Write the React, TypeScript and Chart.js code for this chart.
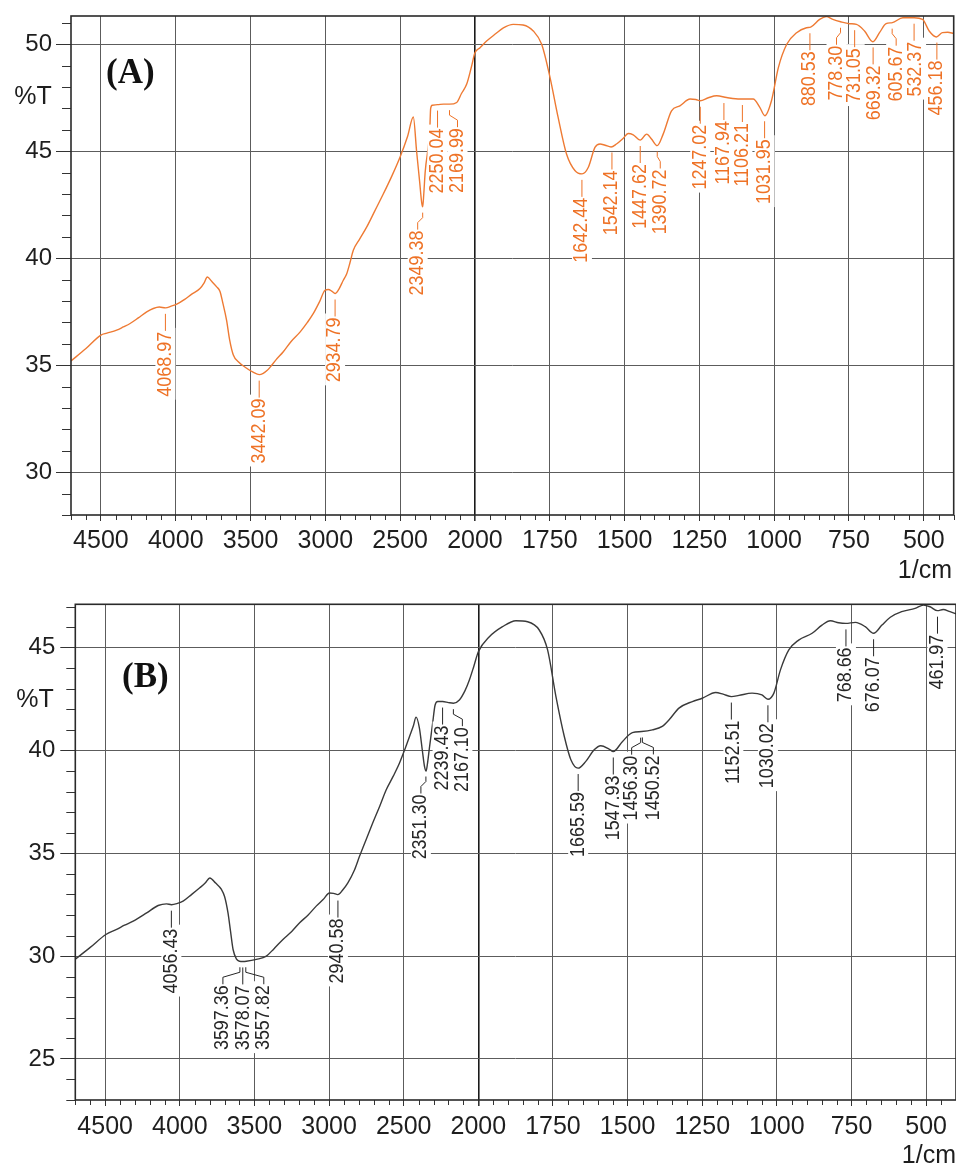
import React, { useEffect, useRef } from "react";
import { Chart, registerables } from "chart.js";

Chart.register(...registerables);

// ---------------- data ----------------
const xTickLabels = [4500, 4000, 3500, 3000, 2500, 2000, 1750, 1500, 1250, 1000, 750, 500];
const xRange = [4700, 400];
const yTicksA = [30, 35, 40, 45, 50];
const yTicksB = [25, 30, 35, 40, 45];
const yRangeA = [28, 51.32];
const yRangeB = [23, 47.11];

const wavenumbersA = [
  4700, 4600, 4500, 4460, 4395, 4350, 4305, 4250, 4194, 4150, 4110, 4068, 4030, 3993, 3940, 3893,
  3838, 3810, 3789, 3760, 3726, 3704, 3685, 3660, 3640, 3615, 3580, 3526, 3480, 3442, 3415, 3390,
  3370, 3330, 3281, 3230, 3168, 3120, 3080, 3040, 3002, 2980, 2955, 2935, 2910, 2880, 2857, 2835,
  2813, 2770, 2724, 2670, 2612, 2555, 2501, 2450, 2412, 2390, 2370, 2356, 2349, 2342, 2333, 2302,
  2296, 2285, 2250, 2210, 2170, 2122, 2090, 2055, 2025, 2000, 1983, 1961, 1930, 1905, 1872, 1839,
  1805, 1777, 1749, 1722, 1694, 1666, 1642, 1621, 1599, 1582, 1565, 1545, 1527, 1505, 1488, 1471,
  1448, 1426, 1410, 1391, 1371, 1343, 1315, 1281, 1262, 1247, 1220, 1192, 1159, 1114, 1070, 1048,
  1031, 1009, 986, 958, 925, 892, 878, 848, 826, 804, 778, 748, 725, 698, 670, 648,
  626, 605, 570, 532, 504, 482, 458, 438, 420, 400,
];
const transmittanceA = [
  35.2, 35.78, 36.41, 36.5, 36.64, 36.79, 36.95, 37.21, 37.49, 37.65, 37.72, 37.68, 37.76, 37.85, 38.08, 38.32,
  38.58, 38.85, 39.12, 38.92, 38.66, 38.45, 37.9, 37.1, 36.2, 35.48, 35.15, 34.86, 34.66, 34.56, 34.62, 34.75,
  34.9, 35.25, 35.63, 36.1, 36.56, 37.0, 37.42, 37.95, 38.5, 38.54, 38.45, 38.35, 38.55, 38.97, 39.28, 39.8,
  40.37, 40.9, 41.45, 42.2, 43.01, 43.85, 44.72, 45.7, 46.6, 45.0, 43.6, 42.6, 42.4, 43.0, 44.0, 46.0,
  47.0, 47.15, 47.18, 47.2, 47.2, 47.28, 47.7, 48.14, 48.9, 49.6, 49.84, 50.15, 50.5, 50.77, 50.93, 50.9,
  50.62, 50.0, 48.44, 46.58, 44.87, 44.1, 43.94, 44.25, 45.18, 45.34, 45.28, 45.2, 45.34, 45.6, 45.83, 45.77,
  45.52, 45.8, 45.57, 45.26, 45.8, 46.89, 47.12, 47.44, 47.42, 47.36, 47.5, 47.59, 47.51, 47.44, 47.44, 47.05,
  46.66, 47.36, 48.91, 50.0, 50.54, 50.77, 50.8, 51.16, 51.29, 51.16, 51.05, 50.96, 50.93, 50.62, 50.12, 50.54,
  50.96, 51.01, 51.24, 51.24, 51.16, 50.62, 50.34, 50.54, 50.56, 50.5,
];
const peaksA = [
  4068.97, 3442.09, 2934.79, 2349.38, 2250.04, 2169.99, 1642.44, 1542.14, 1447.62, 1390.72, 1247.02,
  1167.94, 1106.21, 1031.95, 880.53, 778.3, 731.05, 669.32, 605.67, 532.37, 456.18,
];

const wavenumbersB = [
  4700, 4602, 4495, 4423, 4370, 4312, 4222, 4145, 4089, 4056, 4020, 3978, 3920, 3866, 3830, 3799,
  3760, 3721, 3700, 3677, 3660, 3643, 3620, 3600, 3578, 3554, 3487, 3420, 3370, 3309, 3250, 3197,
  3140, 3086, 3040, 2997, 2970, 2941, 2910, 2874, 2829, 2796, 2750, 2707, 2660, 2617, 2570, 2528,
  2490, 2461, 2435, 2417, 2395, 2375, 2360, 2350, 2340, 2328, 2306, 2290, 2272, 2239, 2200, 2167,
  2127, 2090, 2060, 2030, 2000, 1963, 1919, 1874, 1835, 1796, 1768, 1740, 1712, 1690, 1666, 1640,
  1612, 1590, 1562, 1548, 1517, 1484, 1453, 1417, 1384, 1361, 1328, 1283, 1250, 1205, 1180, 1152,
  1127, 1083, 1050, 1030, 1010, 988, 960, 927, 882, 849, 821, 793, 769, 737, 704, 676,
  648, 620, 582, 537, 509, 487, 462, 443, 420, 400,
];
const transmittanceB = [
  29.85, 30.41, 31.05, 31.3, 31.5, 31.7, 32.1, 32.46, 32.54, 32.5, 32.55, 32.67, 33.0, 33.32, 33.55, 33.8,
  33.55, 33.24, 32.9, 32.1, 31.2, 30.32, 29.85, 29.75, 29.74, 29.75, 29.84, 30.0, 30.35, 30.81, 31.2, 31.62,
  32.0, 32.43, 32.75, 33.07, 33.05, 32.99, 33.2, 33.56, 34.2, 34.85, 35.7, 36.48, 37.3, 38.09, 38.75, 39.39,
  40.1, 40.68, 41.2, 41.62, 41.1, 40.0, 39.2, 39.0, 39.4, 40.1, 41.33, 42.2, 42.38, 42.38, 42.33, 42.3,
  42.46, 42.9, 43.43, 44.1, 44.8, 45.53, 46.02, 46.31, 46.26, 45.86, 44.89, 42.62, 40.68, 39.55, 39.14, 39.47,
  40.03, 40.23, 40.07, 39.95, 40.44, 40.87, 40.92, 41.0, 41.17, 41.49, 42.06, 42.38, 42.54, 42.82, 42.74, 42.62,
  42.68, 42.79, 42.7, 42.49, 42.79, 43.92, 44.89, 45.37, 45.7, 46.1, 46.31, 46.21, 46.18, 46.23, 46.02, 45.7,
  46.1, 46.48, 46.75, 46.91, 47.07, 46.99, 46.8, 46.86, 46.75, 46.65,
];
const peaksB = [
  4056.43, 3597.36, 3578.07, 3557.82, 2940.58, 2351.3, 2239.43, 2167.1, 1665.59, 1547.93, 1456.3,
  1450.52, 1152.51, 1030.02, 768.66, 676.07, 461.97,
];

// ---------------- layout / style (not data) ----------------
const labelShiftA = [0, 0, 0, -5, 0, 8, 0, 0, 0, 3, 0, 0, 0, 0, 0, -4, 0, 2, 4, 2, 0];
const labelShiftB = [0, -17, 1, 18, 0, -5, 0, 9, 0, 0, -9, 11, 2, 0, 0, 0, 0];

const SANS = '"Liberation Sans", Arial, Helvetica, sans-serif';
const SERIF = '"Liberation Serif", "Times New Roman", serif';
const BREAK = 2000;
const toP = (w: number) => (w <= BREAK ? w : BREAK + (w - BREAK) / 2);
const fromP = (p: number) => (p <= BREAK ? p : BREAK + (p - BREAK) * 2);

function curveAt(ws: number[], ts: number[], w: number) {
  for (let i = 0; i < ws.length - 1; i++) {
    const a = ws[i];
    const b = ws[i + 1];
    if ((w <= a && w >= b) || (w >= a && w <= b)) {
      const f = (w - a) / (b - a || 1);
      return ts[i] + f * (ts[i + 1] - ts[i]);
    }
  }
  return ts[ts.length - 1];
}

type PanelCfg = {
  top: number;
  height: number;
  area: { left: number; top: number; right: number; bottom: number };
  w: number[];
  t: number[];
  peaks: number[];
  shifts: number[];
  yRange: number[];
  yTicks: number[];
  lineColor: string;
  labelColor: string;
  tag: string;
  tagPos: [number, number];
  unitPos: [number, number];
  cmPos: [number, number];
  xLabelPad: number;
  yLabelPad: number;
};

const panelA: PanelCfg = {
  top: 0,
  height: 582,
  area: { left: 71, top: 15, right: 953.7, bottom: 515 },
  w: wavenumbersA,
  t: transmittanceA,
  peaks: peaksA,
  shifts: labelShiftA,
  yRange: yRangeA,
  yTicks: yTicksA,
  lineColor: "#ee7a33",
  labelColor: "#ee7226",
  tag: "(A)",
  tagPos: [106, 83],
  unitPos: [33, 97],
  cmPos: [952, 578],
  xLabelPad: 5,
  yLabelPad: 4,
};

const panelB: PanelCfg = {
  top: 582,
  height: 582,
  area: { left: 75.3, top: 22.3, right: 956, bottom: 518 },
  w: wavenumbersB,
  t: transmittanceB,
  peaks: peaksB,
  shifts: labelShiftB,
  yRange: yRangeB,
  yTicks: yTicksB,
  lineColor: "#3a3a3a",
  labelColor: "#262626",
  tag: "(B)",
  tagPos: [122, 105],
  unitPos: [35, 118],
  cmPos: [956, 581],
  xLabelPad: 6,
  yLabelPad: 5,
};

function SpectrumPanel({ cfg }: { cfg: PanelCfg }) {
  const ref = useRef<HTMLCanvasElement>(null);

  useEffect(() => {
    const canvas = ref.current;
    if (!canvas) return;
    const W = 956;
    const majorP = xTickLabels.map(toP);
    const pMin = toP(xRange[1]);
    const pMax = toP(xRange[0]);
    const points = cfg.w
      .map((w, i) => ({ x: toP(w), y: cfg.t[i] }))
      .sort((a, b) => a.x - b.x);

    const overlay = {
      id: "overlay",
      afterDraw(chart: any) {
        const ctx = chart.ctx as CanvasRenderingContext2D;
        const xs = chart.scales.x;
        const ys = chart.scales.y;
        const { left, right, top, bottom } = chart.chartArea;
        ctx.save();

        // minor ticks
        ctx.strokeStyle = "#333";
        ctx.lineWidth = 1;
        ctx.beginPath();
        for (let p = pMin; p <= pMax; p += 50) {
          if (majorP.includes(p)) continue;
          const x = Math.round(xs.getPixelForValue(p)) + 0.5;
          ctx.moveTo(x, bottom);
          ctx.lineTo(x, bottom + 5);
        }
        for (let v = Math.ceil(ys.min); v <= Math.floor(ys.max); v++) {
          if (cfg.yTicks.includes(v)) continue;
          const y = Math.round(ys.getPixelForValue(v)) + 0.5;
          ctx.moveTo(left - 9, y);
          ctx.lineTo(left, y);
        }
        ctx.stroke();

        // frame
        ctx.strokeStyle = "#2a2a2a";
        ctx.lineWidth = 1.6;
        ctx.strokeRect(left, top, right - left, bottom - top);

        // peak labels
        const L = 17;
        const SQ = 0.92;
        ctx.font = `19.5px ${SANS}`;
        const items = cfg.peaks.map((w, i) => {
          const x = xs.getPixelForValue(toP(w));
          const T = curveAt(cfg.w, cfg.t, w);
          const y0 = ys.getPixelForValue(T) + 6;
          const text = w.toFixed(2);
          return { x, y0, dx: cfg.shifts[i] || 0, text, len: ctx.measureText(text).width * SQ };
        });
        ctx.fillStyle = "#ffffff";
        for (const it of items) {
          const tx = it.x + it.dx;
          ctx.fillRect(tx - 10, it.y0 + L - 3, 20, it.len + 7);
        }
        ctx.strokeStyle = cfg.labelColor;
        ctx.lineWidth = 1;
        for (const it of items) {
          ctx.beginPath();
          ctx.moveTo(it.x, it.y0);
          if (Math.abs(it.dx) < 2.5) {
            ctx.lineTo(it.x, it.y0 + L);
          } else {
            ctx.lineTo(it.x, it.y0 + 5);
            ctx.lineTo(it.x + it.dx, it.y0 + 10);
            ctx.lineTo(it.x + it.dx, it.y0 + L);
          }
          ctx.stroke();
        }
        ctx.fillStyle = cfg.labelColor;
        ctx.textAlign = "right";
        ctx.textBaseline = "middle";
        for (const it of items) {
          ctx.save();
          ctx.translate(it.x + it.dx, it.y0 + L + 1);
          ctx.rotate(-Math.PI / 2);
          ctx.scale(SQ, 1);
          ctx.fillText(it.text, 0, 0);
          ctx.restore();
        }

        // titles
        ctx.fillStyle = "#1e1e1e";
        ctx.font = `25px ${SANS}`;
        ctx.textAlign = "center";
        ctx.textBaseline = "middle";
        ctx.fillText("%T", cfg.unitPos[0], cfg.unitPos[1]);
        ctx.textAlign = "right";
        ctx.textBaseline = "alphabetic";
        ctx.fillText("1/cm", cfg.cmPos[0], cfg.cmPos[1]);
        ctx.font = `bold 35px ${SERIF}`;
        ctx.textAlign = "left";
        ctx.fillStyle = "#111";
        ctx.fillText(cfg.tag, cfg.tagPos[0], cfg.tagPos[1]);
        ctx.restore();
      },
    };

    const chart = new Chart(canvas, {
      type: "line",
      data: {
        datasets: [
          {
            data: points,
            borderColor: cfg.lineColor,
            borderWidth: 1.4,
            pointRadius: 0,
            fill: false,
            cubicInterpolationMode: "monotone",
          },
        ],
      },
      options: {
        animation: false,
        responsive: false,
        maintainAspectRatio: false,
        devicePixelRatio: 1,
        layout: {
          padding: { left: 0, top: cfg.area.top, right: W - cfg.area.right, bottom: 0 },
        },
        plugins: { legend: { display: false }, tooltip: { enabled: false } },
        scales: {
          x: {
            type: "linear",
            min: pMin,
            max: pMax,
            reverse: true,
            afterBuildTicks: (s: any) => {
              s.ticks = majorP.map((v) => ({ value: v }));
            },
            afterFit: (s: any) => {
              s.height = cfg.height - cfg.area.bottom;
            },
            ticks: {
              autoSkip: false,
              maxRotation: 0,
              minRotation: 0,
              padding: cfg.xLabelPad,
              color: "#1e1e1e",
              font: { family: SANS, size: 25 },
              callback: (v: any) => String(Math.round(fromP(Number(v)))),
            },
            grid: {
              color: (c: any) => (c.tick && c.tick.value === BREAK ? "#1a1a1a" : "#5c5c5c"),
              lineWidth: (c: any) => (c.tick && c.tick.value === BREAK ? 1.6 : 1),
              tickLength: 6,
              tickColor: "#333",
            },
            border: { display: false },
          },
          y: {
            type: "linear",
            min: cfg.yRange[0],
            max: cfg.yRange[1],
            afterBuildTicks: (s: any) => {
              s.ticks = cfg.yTicks.map((v) => ({ value: v }));
            },
            afterFit: (s: any) => {
              s.width = cfg.area.left;
            },
            ticks: {
              padding: cfg.yLabelPad,
              color: "#1e1e1e",
              font: { family: SANS, size: 24, lineHeight: 1 },
              callback: (v: any) => String(v),
            },
            grid: {
              color: "#5c5c5c",
              lineWidth: 1,
              tickLength: 15,
              tickColor: "#333",
            },
            border: { display: false },
          },
        },
      } as any,
      plugins: [overlay],
    });
    return () => chart.destroy();
  }, [cfg]);

  return (
    <canvas
      ref={ref}
      width={956}
      height={cfg.height}
      style={{ position: "absolute", left: 0, top: cfg.top, display: "block" }}
    />
  );
}

export default function App() {
  return (
    <div
      style={{
        position: "absolute",
        left: 0,
        top: 0,
        width: 956,
        height: 1164,
        background: "#ffffff",
        overflow: "hidden",
      }}
    >
      <SpectrumPanel cfg={panelA} />
      <SpectrumPanel cfg={panelB} />
    </div>
  );
}
